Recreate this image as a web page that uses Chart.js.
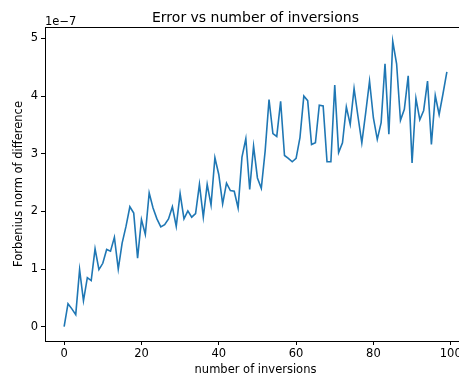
<!DOCTYPE html>
<html>
<head>
<meta charset="utf-8">
<script src="https://cdn.jsdelivr.net/npm/chart.js@4.4.1/dist/chart.umd.min.js"></script>
<style>
  html, body { margin: 0; padding: 0; background: #fff; overflow: hidden; }
  #wrap { width: 480px; height: 377px; }
</style>
</head>
<body>
<div id="wrap"><canvas id="chartErr" width="480" height="377"></canvas></div>
<script>
// number of inversions (x)
const inversions = [
  0, 1, 2, 3, 4, 5, 6, 7, 8, 9, 10, 11, 12, 13, 14, 15, 16, 17, 18, 19,
  20, 21, 22, 23, 24, 25, 26, 27, 28, 29, 30, 31, 32, 33, 34, 35, 36, 37, 38, 39,
  40, 41, 42, 43, 44, 45, 46, 47, 48, 49, 50, 51, 52, 53, 54, 55, 56, 57, 58, 59,
  60, 61, 62, 63, 64, 65, 66, 67, 68, 69, 70, 71, 72, 73, 74, 75, 76, 77, 78, 79,
  80, 81, 82, 83, 84, 85, 86, 87, 88, 89, 90, 91, 92, 93, 94, 95, 96, 97, 98, 99
];

// Frobenius norm of difference, in units of 1e-7
const errNorm = [
  0.00, 0.40, 0.31, 0.21, 0.99, 0.45, 0.85, 0.80, 1.35, 0.99,
  1.10, 1.34, 1.31, 1.55, 1.00, 1.45, 1.74, 2.08, 1.97, 1.19,
  1.86, 1.60, 2.32, 2.06, 1.87, 1.73, 1.77, 1.87, 2.08, 1.74,
  2.31, 1.87, 2.01, 1.90, 1.96, 2.47, 1.90, 2.47, 2.11, 2.93,
  2.64, 2.13, 2.49, 2.36, 2.35, 2.06, 2.94, 3.26, 2.38, 3.13,
  2.58, 2.40, 3.05, 3.94, 3.35, 3.30, 3.91, 2.97, 2.92, 2.86,
  2.92, 3.28, 4.00, 3.92, 3.16, 3.19, 3.84, 3.83, 2.86, 2.86,
  4.19, 3.02, 3.19, 3.81, 3.51, 4.13, 3.65, 3.19, 3.71, 4.26,
  3.62, 3.25, 3.54, 4.56, 3.34, 4.95, 4.56, 3.58, 3.77, 4.35,
  2.84, 3.96, 3.59, 3.75, 4.26, 3.16, 4.01, 3.68, 4.04, 4.42
];

const xTicks = [0, 20, 40, 60, 80, 100];
const yTicks = [0, 1, 2, 3, 4, 5];

Chart.defaults.font.family = "'DejaVu Sans', sans-serif";
Chart.defaults.font.size = 11.5;
Chart.defaults.color = '#000';

// frame, title and offset text like matplotlib
const decor = {
  id: 'decor',
  afterDraw(chart) {
    const { ctx, chartArea: a } = chart;
    ctx.save();
    ctx.strokeStyle = '#000';
    ctx.lineWidth = 1;
    ctx.beginPath();
    ctx.moveTo(a.left, Math.round(a.top) + 0.5);
    ctx.lineTo(a.right, Math.round(a.top) + 0.5);
    ctx.stroke();
    ctx.fillStyle = '#000';
    ctx.font = "14px 'DejaVu Sans'";
    ctx.textAlign = 'center';
    ctx.textBaseline = 'alphabetic';
    ctx.fillText('Error vs number of inversions', (a.left + a.right) / 2, 22);
    ctx.font = "11.5px 'DejaVu Sans'";
    ctx.textAlign = 'left';
    ctx.fillText('1e\u22127', a.left, 25);
    ctx.restore();
  }
};

new Chart(document.getElementById('chartErr'), {
  type: 'line',
  data: {
    labels: inversions,
    datasets: [{
      data: errNorm,
      borderColor: '#1f77b4',
      borderWidth: 1.6,
      pointRadius: 0,
      tension: 0,
      fill: false
    }]
  },
  options: {
    responsive: false,
    animation: false,
    layout: { padding: { top: 27, right: 14, left: 0, bottom: 0 } },
    plugins: { legend: { display: false }, tooltip: { enabled: false } },
    scales: {
      x: {
        type: 'linear',
        min: -4.95,
        max: 103.95,
        afterBuildTicks: s => { s.ticks = xTicks.map(v => ({ value: v })); },
        afterFit: s => { s.height = 36; },
        grid: { drawOnChartArea: false, drawTicks: true, tickLength: 4, color: '#000', lineWidth: 1 },
        border: { display: true, color: '#000', width: 1 },
        ticks: { autoSkip: false, maxRotation: 0, padding: 2 },
        title: { display: true, text: 'number of inversions', padding: { top: 0, bottom: 0 } }
      },
      y: {
        min: -0.2475,
        max: 5.1975,
        afterBuildTicks: s => { s.ticks = yTicks.map(v => ({ value: v })); },
        afterFit: s => { s.width = 45; },
        grid: { drawOnChartArea: false, drawTicks: true, tickLength: 4, color: '#000', lineWidth: 1 },
        border: { display: true, color: '#000', width: 1 },
        ticks: { autoSkip: false, padding: 3 },
        title: { display: true, text: 'Forbenius norm of difference', padding: { top: 12, bottom: 0 } }
      }
    }
  },
  plugins: [decor]
});
</script>
</body>
</html>
